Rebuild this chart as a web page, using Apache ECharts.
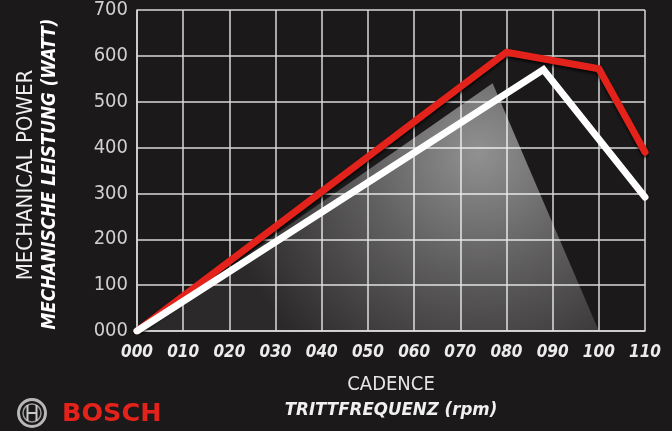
<!DOCTYPE html>
<html>
<head>
<meta charset="utf-8">
<script src="https://cdn.jsdelivr.net/npm/echarts@6/dist/echarts.min.js"></script>
<style>
html,body{margin:0;padding:0;background:#1b1919;}
#chart{width:672px;height:431px;}
</style>
</head>
<body>
<div id="chart"></div>
<script>
// Data
var redCadence   = [0, 10, 20, 30, 40, 50, 60, 70, 80, 90, 100, 110];
var redPower     = [0, 76, 152, 228, 304, 380, 456, 532, 608, 590, 572, 390];
var whiteCadence = [0, 88, 110];
var whitePower   = [0, 570, 292];
var shadeCadence = [0, 77, 100];
var shadePower   = [0, 540, 0];
var xTicks = [0, 10, 20, 30, 40, 50, 60, 70, 80, 90, 100, 110];
var yTicks = [0, 100, 200, 300, 400, 500, 600, 700];

function pairs(xs, ys) { return xs.map(function (x, i) { return [x, ys[i]]; }); }
function pad3(v) { return String(v).padStart(3, '0'); }

var FONT = '"DejaVu Sans Condensed", "Liberation Sans Narrow", "Roboto", sans-serif';
var chart = echarts.init(document.getElementById('chart'));
var gridColor = '#d8d8d8';

chart.setOption({
  backgroundColor: '#1b1919',
  animation: false,
  grid: { left: 137, right: 27, top: 10, bottom: 100 },
  xAxis: {
    type: 'value', min: 0, max: 110, interval: 10,
    axisLine: { show: true, lineStyle: { color: gridColor, width: 1.5 } },
    axisTick: { show: false },
    splitLine: { show: true, lineStyle: { color: gridColor, width: 1.5 } },
    axisLabel: {
      formatter: pad3, color: '#ececec', fontFamily: FONT, fontSize: 17,
      fontStyle: 'italic', fontWeight: 'bold', margin: 13
    }
  },
  yAxis: {
    type: 'value', min: 0, max: 700, interval: 100,
    axisLine: { show: true, lineStyle: { color: gridColor, width: 1.5 } },
    axisTick: { show: false },
    splitLine: { show: true, lineStyle: { color: gridColor, width: 1.5 } },
    axisLabel: {
      formatter: pad3, color: '#d0d0d0', fontFamily: FONT, fontSize: 20, margin: 9
    }
  },
  series: [
    {
      type: 'line', data: pairs(shadeCadence, shadePower), symbol: 'none',
      lineStyle: { width: 0 },
      areaStyle: {
        opacity: 1,
        color: new echarts.graphic.RadialGradient(0.74, 0.28, 1.05, [
          { offset: 0, color: 'rgba(255,255,255,0.52)' },
          { offset: 0.45, color: 'rgba(255,255,255,0.3)' },
          { offset: 1, color: 'rgba(255,255,255,0.07)' }
        ])
      },
      z: 1
    },
    {
      type: 'line', data: pairs(redCadence, redPower), symbol: 'none',
      lineStyle: { color: '#e3231b', width: 7, cap: 'round', join: 'round',
        shadowColor: 'rgba(0,0,0,0.8)', shadowBlur: 3, shadowOffsetY: 2 },
      z: 3
    },
    {
      type: 'line', data: pairs(whiteCadence, whitePower), symbol: 'none',
      lineStyle: { color: '#ffffff', width: 7, cap: 'round', join: 'miter' },
      z: 4
    }
  ],
  graphic: [
    { type: 'text', x: 391, y: 385, style: { text: 'CADENCE', fill: '#e6e6e6', font: '20px ' + FONT, textAlign: 'center', textVerticalAlign: 'middle' } },
    { type: 'text', x: 391, y: 410, style: { text: 'TRITTFREQUENZ (rpm)', fill: '#f0f0f0', font: 'italic bold 18.5px ' + FONT, textAlign: 'center', textVerticalAlign: 'middle' } },
    { type: 'text', rotation: Math.PI / 2, x: 26, y: 175, style: { text: 'MECHANICAL POWER', fill: '#f0f0f0', font: '22px ' + FONT, textAlign: 'center', textVerticalAlign: 'middle' } },
    { type: 'text', rotation: Math.PI / 2, x: 50, y: 174, style: { text: 'MECHANISCHE LEISTUNG (WATT)', fill: '#ffffff', font: 'italic bold 18.7px ' + FONT, textAlign: 'center', textVerticalAlign: 'middle' } },
    { type: 'circle', shape: { cx: 32, cy: 413, r: 13.5 }, style: { fill: 'none', stroke: '#b8b8b8', lineWidth: 3 } },
    { type: 'circle', shape: { cx: 32, cy: 413, r: 9 }, style: { fill: 'none', stroke: '#9a9a9a', lineWidth: 1.5 } },
    { type: 'line', shape: { x1: 27.5, y1: 405, x2: 27.5, y2: 421 }, style: { stroke: '#c8c8c8', lineWidth: 2 } },
    { type: 'line', shape: { x1: 36.5, y1: 405, x2: 36.5, y2: 421 }, style: { stroke: '#c8c8c8', lineWidth: 2 } },
    { type: 'line', shape: { x1: 27.5, y1: 413, x2: 36.5, y2: 413 }, style: { stroke: '#c8c8c8', lineWidth: 2 } },
    { type: 'text', x: 62, y: 414, style: { text: 'BOSCH', fill: '#e3231b', font: 'bold 25.5px "DejaVu Sans", sans-serif', textVerticalAlign: 'middle' } }
  ]
});
</script>
</body>
</html>
